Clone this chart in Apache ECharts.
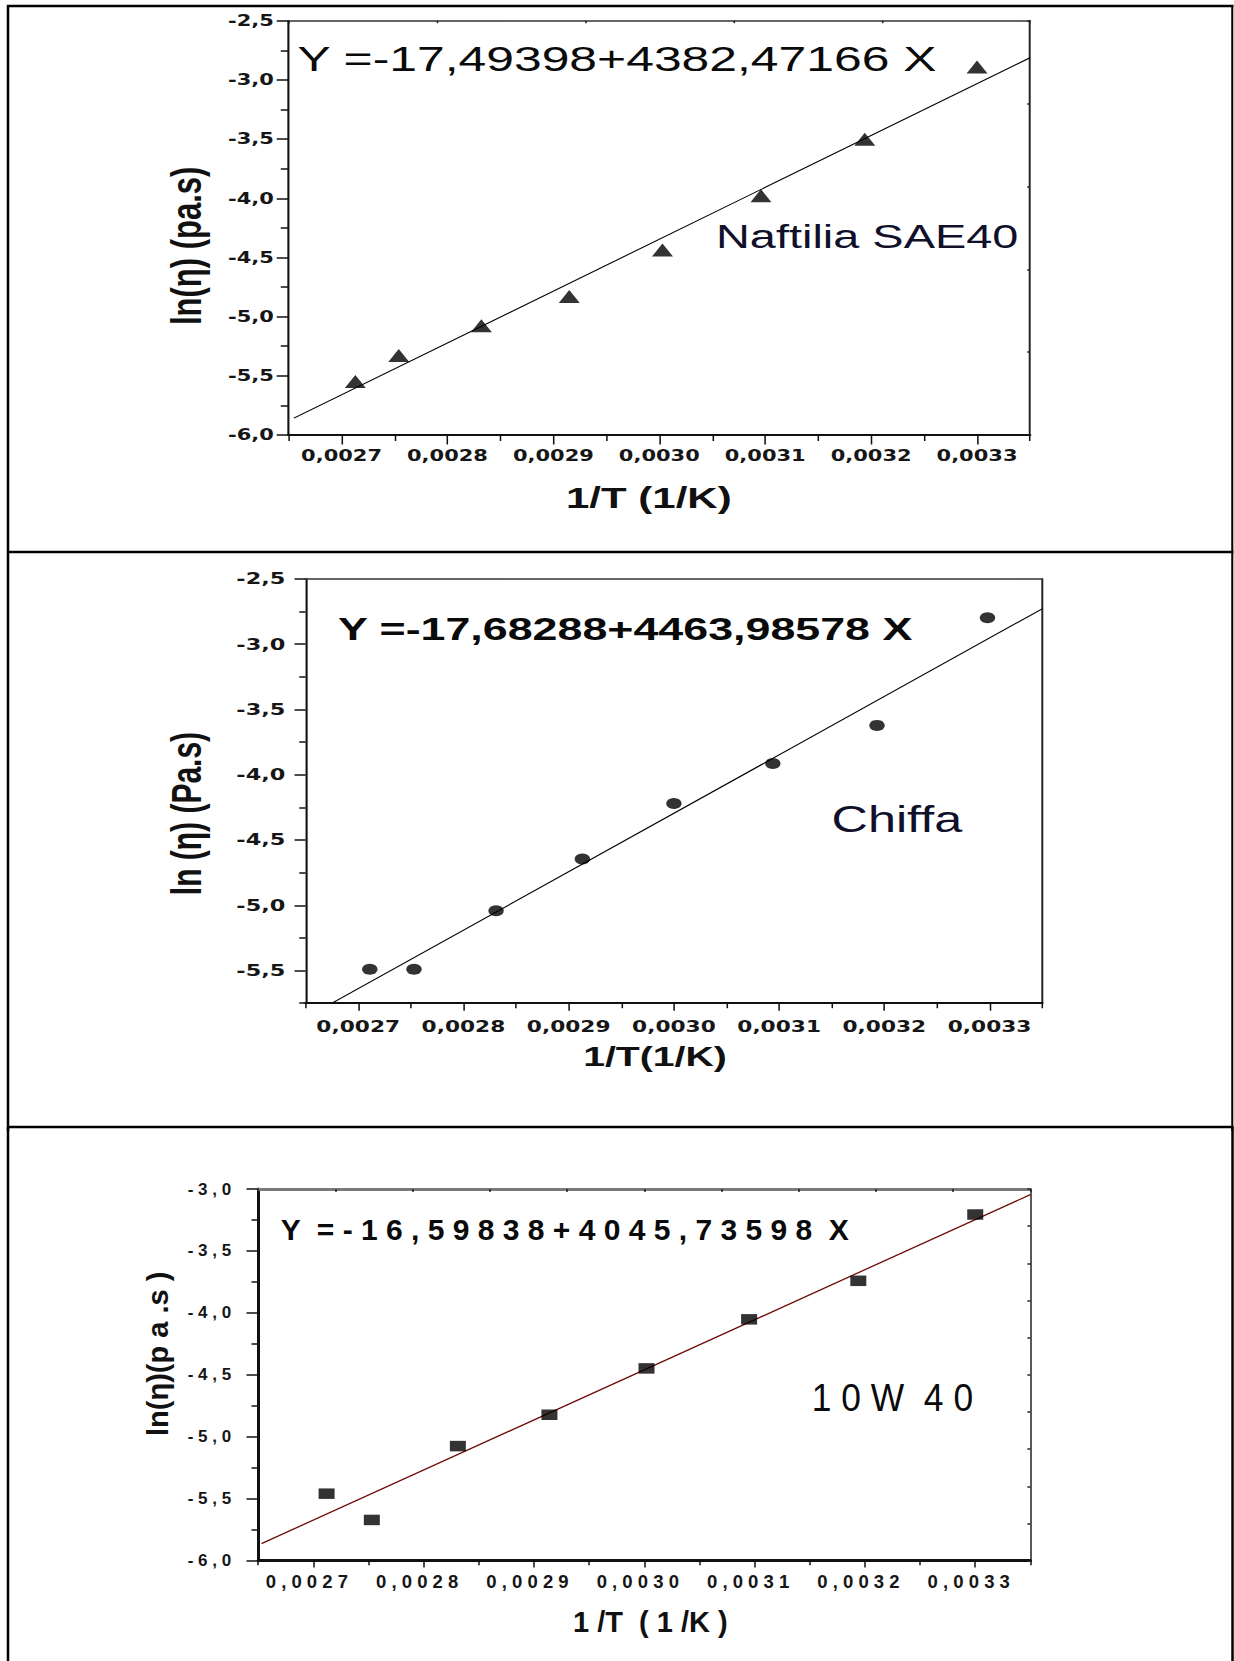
<!DOCTYPE html>
<html>
<head>
<meta charset="utf-8">
<script src="https://cdn.jsdelivr.net/npm/echarts@6/dist/echarts.min.js"></script>
<style>
  html, body { margin: 0; padding: 0; background: #ffffff; }
  #wrap { position: relative; width: 1234px; height: 1661px; overflow: hidden; background: #fff; }
  #top { position: absolute; left: 0; top: 0; transform-origin: 0 0; }
  #bot { position: absolute; left: 0; top: 1127px; width: 1234px; height: 534px; }
</style>
</head>
<body>
<div id="wrap"><div id="top"></div><div id="bot"></div></div>
<script>
// ---------------- data ----------------
const naftiliaX = [0.002713, 0.002754, 0.002832, 0.002915, 0.003003, 0.003096, 0.003194, 0.003300];
const naftiliaY = [-5.547, -5.328, -5.077, -4.829, -4.437, -3.978, -3.502, -2.892];
const naftiliaFitX = [0.002655, 0.003350];
const naftiliaFitY = [-5.858, -2.813];

const chiffaX = [0.002711, 0.002753, 0.002831, 0.002913, 0.003000, 0.003094, 0.003193, 0.003298];
const chiffaY = [-5.490, -5.490, -5.042, -4.645, -4.220, -3.914, -3.622, -2.797];
const chiffaFitX = [0.002676, 0.003350];
const chiffaFitY = [-5.745, -2.729];

const w1040X = [0.002712, 0.002753, 0.002831, 0.002914, 0.003002, 0.003095, 0.003194, 0.003300];
const w1040Y = [-5.459, -5.671, -5.075, -4.822, -4.448, -4.052, -3.741, -3.206];
const w1040FitX = [0.002653, 0.003350];
const w1040FitY = [-5.862, -3.045];

// tick values
const xMajorTicks = [0.0027, 0.0028, 0.0029, 0.0030, 0.0031, 0.0032, 0.0033];
const xMinorTicks = [0.00265, 0.00275, 0.00285, 0.00295, 0.00305, 0.00315, 0.00325, 0.00335];
const yMajor1 = [-6.0, -5.5, -5.0, -4.5, -4.0, -3.5, -3.0, -2.5];
const yMinor1 = [-5.75, -5.25, -4.75, -4.25, -3.75, -3.25, -2.75];
const yMajor2 = [-5.5, -5.0, -4.5, -4.0, -3.5, -3.0, -2.5];
const yMinor2 = [-5.75, -5.25, -4.75, -4.25, -3.75, -3.25, -2.75];
const yMajor3 = [-6.0, -5.5, -5.0, -4.5, -4.0, -3.5, -3.0];
const yMinor3 = [-5.75, -5.25, -4.75, -4.25, -3.75, -3.25];

// texts
const eq1 = 'Y =-17,49398+4382,47166 X';
const eq2 = 'Y =-17,68288+4463,98578 X';
const eq3 = 'Y  = - 1 6 , 5 9 8 3 8 + 4 0 4 5 , 7 3 5 9 8  X';
const label1 = 'Naftilia SAE40';
const label2 = 'Chiffa';
const label3 = '1 0 W  4 0';
const xName1 = '1/T (1/K)';
const xName2 = '1/T(1/K)';
const xName3 = '1 /T  ( 1 /K )';
const yName1 = 'ln(η) (pa.s)';
const yName2 = 'ln (η) (Pa.s)';
const yName3 = 'ln(η)(p a .s )';

// ---------------- helpers ----------------
const X_MIN = 0.00265, X_MAX = 0.00335;
const S = 1.4;                 // horizontal stretch of the two upper panels
const TOP_W = 1234 / S, TOP_H = 1131;
const sx = px => px / S;
const zip = (a, b) => a.map((v, i) => [v, b[i]]);
const comma = (v, d) => v.toFixed(d).replace('.', ',');
const spaced = s => s.split('').join(' ');

function panelAxes(g, p) {
  const xAxis = [
    {
      gridIndex: g, type: 'value', min: X_MIN, max: X_MAX, position: 'bottom',
      axisLine: { show: true, onZero: false, lineStyle: { color: '#111', width: p.bottomW } },
      axisTick: { show: true, inside: false, length: p.xMajLen, customValues: xMajorTicks,
                  lineStyle: { color: '#111', width: p.xTickW } },
      axisLabel: { show: true, customValues: xMajorTicks, formatter: p.xFmt, margin: p.xLabMargin,
                   fontFamily: p.labFont, fontWeight: 'bold', fontSize: p.xLabSize, color: '#161616',
                   padding: p.xLabPad },
      splitLine: { show: false },
      name: p.xName, nameLocation: 'middle', nameGap: p.xNameGap, nameMoveOverlap: false,
      nameTextStyle: { fontFamily: p.nameFont, fontWeight: 'bold', fontSize: p.xNameSize, color: '#111',
                       padding: p.xNamePad }
    },
    {
      gridIndex: g, type: 'value', min: X_MIN, max: X_MAX, position: 'bottom',
      axisLine: { show: false, onZero: false },
      axisTick: { show: true, inside: false, length: p.xMinLen, customValues: xMinorTicks,
                  lineStyle: { color: '#111', width: p.xTickW } },
      axisLabel: { show: false }, splitLine: { show: false }
    },
    {
      gridIndex: g, type: 'value', min: 0, max: p.topDiv, interval: 1, position: 'top',
      axisLine: { show: true, onZero: false, lineStyle: { color: p.topColor, width: p.topW } },
      axisTick: { show: p.topTicks, inside: true, length: p.topTickLen, lineStyle: { color: '#222', width: p.xTickW } },
      axisLabel: { show: false }, splitLine: { show: false }
    }
  ];
  const yAxis = [
    {
      gridIndex: g, type: 'value', min: p.yMin, max: p.yMax, position: 'left',
      axisLine: { show: true, onZero: false, lineStyle: { color: '#111', width: p.leftW } },
      axisTick: { show: true, inside: false, length: p.yMajLen, customValues: p.yMajor,
                  lineStyle: { color: '#111', width: p.yTickW } },
      axisLabel: { show: true, customValues: p.yMajor, formatter: p.yFmt, margin: p.yLabMargin,
                   fontFamily: p.labFont, fontWeight: 'bold', fontSize: p.yLabSize, color: '#161616' },
      splitLine: { show: false },
      name: p.yName, nameLocation: 'middle', nameGap: p.yNameGap, nameRotate: 90, nameMoveOverlap: false,
      nameTextStyle: { fontFamily: p.nameFont, fontWeight: 'bold', fontSize: p.yNameSize, color: '#111',
                       padding: p.yNamePad }
    },
    {
      gridIndex: g, type: 'value', min: p.yMin, max: p.yMax, position: 'left',
      axisLine: { show: false, onZero: false },
      axisTick: { show: true, inside: false, length: p.yMinLen, customValues: p.yMinor,
                  lineStyle: { color: '#111', width: p.yTickW } },
      axisLabel: { show: false }, splitLine: { show: false }
    },
    {
      gridIndex: g, type: 'value', min: 0, max: p.rightDiv, interval: 1, position: 'right',
      axisLine: { show: true, onZero: false, lineStyle: { color: '#222', width: p.rightW } },
      axisTick: { show: p.rightTicks, inside: true, length: p.rightTickLen, lineStyle: { color: '#222', width: p.yTickW } },
      axisLabel: { show: false }, splitLine: { show: false }
    }
  ];
  return { xAxis, yAxis };
}

function textEl(x, y, text, size, weight, family, scaleX, color) {
  return {
    type: 'text', x: x, y: y, scaleX: scaleX || 1, silent: true, z: 10,
    style: { text: text, fill: color || '#0a0a0a', fontSize: size, fontWeight: weight,
             fontFamily: family, align: 'left', verticalAlign: 'middle' }
  };
}
function lineEl(x1, y1, x2, y2, w, color) {
  return { type: 'line', silent: true, z: 20, shape: { x1, y1, x2, y2 },
           style: { stroke: color || '#000', lineWidth: w } };
}

const ARIAL = "'Liberation Sans', Arial, sans-serif";
const DEJAVU = "'DejaVu Sans', 'Liberation Sans', sans-serif";

// ---------------- top chart: panels 1 and 2 ----------------
const topEl = document.getElementById('top');
topEl.style.width = TOP_W + 'px';
topEl.style.height = TOP_H + 'px';
topEl.style.transform = 'scaleX(' + S + ')';

const p1 = panelAxes(0, {
  yMin: -6, yMax: -2.5, yMajor: yMajor1, yMinor: yMinor1,
  bottomW: 2, leftW: 1.5, topW: 1.5, rightW: 1.4, topColor: '#333',
  xTickW: 1.1, yTickW: 1.5, xMajLen: 9.5, xMinLen: 6, yMajLen: 8.5, yMinLen: 5.6,
  topDiv: 5, topTicks: true, topTickLen: 2.5, rightDiv: 5, rightTicks: true, rightTickLen: 2,
  labFont: DEJAVU, xLabSize: 15, yLabSize: 15, xLabMargin: 13, yLabMargin: 10.5, xLabPad: 0,
  xFmt: v => comma(v, 4), yFmt: v => comma(v, 1),
  nameFont: ARIAL, xName: xName1, xNameSize: 30, xNameGap: 48, xNamePad: [0, 15, 0, 0],
  yName: yName1, yNameSize: 31, yNameGap: 58, yNamePad: [0, 36, 0, 0]
});
const p2 = panelAxes(1, {
  yMin: -5.75, yMax: -2.5, yMajor: yMajor2, yMinor: yMinor2,
  bottomW: 2, leftW: 1.5, topW: 1.5, rightW: 1.4, topColor: '#333',
  xTickW: 1.1, yTickW: 1.5, xMajLen: 7.5, xMinLen: 5, yMajLen: 7.9, yMinLen: 4.5,
  topDiv: 5, topTicks: false, topTickLen: 2, rightDiv: 5, rightTicks: false, rightTickLen: 2,
  labFont: DEJAVU, xLabSize: 15.5, yLabSize: 16, xLabMargin: 15, yLabMargin: 14.5, xLabPad: 0,
  xFmt: v => comma(v, 4), yFmt: v => comma(v, 1),
  nameFont: ARIAL, xName: xName2, xNameSize: 28, xNameGap: 39, xNamePad: [0, 27, 0, 0],
  yName: yName2, yNameSize: 30, yNameGap: 70, yNamePad: [0, 45, 0, 0]
});

const topChart = echarts.init(topEl, null, { renderer: 'svg', width: TOP_W, height: TOP_H });
topChart.setOption({
  animation: false,
  backgroundColor: 'transparent',
  grid: [
    { left: sx(288.6), top: 20.7, width: sx(1030 - 288.6), height: 414.3, containLabel: false, outerBoundsMode: 'none' },
    { left: sx(305.6), top: 578.9, width: sx(1042.2 - 305.6), height: 424.3, containLabel: false, outerBoundsMode: 'none' }
  ],
  xAxis: p1.xAxis.concat(p2.xAxis),
  yAxis: p1.yAxis.concat(p2.yAxis),
  series: [
    { type: 'line', xAxisIndex: 0, yAxisIndex: 0, data: zip(naftiliaFitX, naftiliaFitY),
      symbol: 'none', showSymbol: false, silent: true, lineStyle: { color: '#000', width: 1 }, z: 2 },
    { type: 'scatter', xAxisIndex: 0, yAxisIndex: 0, data: zip(naftiliaX, naftiliaY),
      symbol: 'triangle', symbolSize: [15, 13], itemStyle: { color: '#000' }, z: 3 },
    { type: 'line', xAxisIndex: 3, yAxisIndex: 3, data: zip(chiffaFitX, chiffaFitY),
      symbol: 'none', showSymbol: false, silent: true, lineStyle: { color: '#000', width: 1 }, z: 2 },
    { type: 'scatter', xAxisIndex: 3, yAxisIndex: 3, data: zip(chiffaX, chiffaY),
      symbol: 'circle', symbolSize: [11, 11], itemStyle: { color: '#000' }, z: 3 }
  ],
  graphic: [
    textEl(sx(297.4), 59, eq1, 35.6, 'normal', ARIAL),
    textEl(sx(716), 236, label1, 33.5, 'normal', ARIAL, 1, '#10102a'),
    textEl(sx(338), 629, eq2, 32, 'bold', ARIAL),
    textEl(sx(831.5), 819, label2, 36, 'normal', ARIAL, 1, '#10102a'),
    lineEl(sx(7), 6, TOP_W, 6, 2.5),
    lineEl(sx(8), 5, sx(8), TOP_H, 2.5 / S),
    lineEl(sx(1232.5), 5, sx(1232.5), TOP_H, 2.5 / S),
    lineEl(sx(7), 552, TOP_W, 552, 2.5),
    lineEl(sx(7), 1127, TOP_W, 1127, 2.5)
  ]
});

// ---------------- bottom chart: panel 3 ----------------
const p3 = panelAxes(0, {
  yMin: -6, yMax: -3, yMajor: yMajor3, yMinor: yMinor3,
  bottomW: 3, leftW: 3, topW: 3, rightW: 1.5, topColor: '#7a7a7a',
  xTickW: 1.5, yTickW: 1.5, xMajLen: 6.7, xMinLen: 4.5, yMajLen: 11.7, yMinLen: 6.7,
  topDiv: 10, topTicks: true, topTickLen: 3, rightDiv: 10, rightTicks: true, rightTickLen: 3,
  labFont: ARIAL, xLabSize: 18.5, yLabSize: 17, xLabMargin: 11, yLabMargin: 27, xLabPad: [0, 13, 0, 0],
  xFmt: v => spaced(comma(v, 4)), yFmt: v => spaced(comma(v, 1)),
  nameFont: ARIAL, xName: xName3, xNameSize: 29, xNameGap: 47, xNamePad: [0, 0, 0, 12],
  yName: yName3, yNameSize: 29, yNameGap: 86, yNamePad: [0, 0, 0, 42]
});

const botChart = echarts.init(document.getElementById('bot'), null, { renderer: 'svg', width: 1234, height: 534 });
botChart.setOption({
  animation: false,
  backgroundColor: 'transparent',
  grid: [{ left: 258.2, top: 62, width: 772.2, height: 371.7, containLabel: false, outerBoundsMode: 'none' }],
  xAxis: p3.xAxis,
  yAxis: p3.yAxis,
  series: [
    { type: 'line', xAxisIndex: 0, yAxisIndex: 0, data: zip(w1040FitX, w1040FitY),
      symbol: 'none', showSymbol: false, silent: true, lineStyle: { color: '#6e0a0a', width: 1.3 }, z: 2 },
    { type: 'scatter', xAxisIndex: 0, yAxisIndex: 0, data: zip(w1040X, w1040Y),
      symbol: 'rect', symbolSize: [16, 10.5], itemStyle: { color: '#000' }, z: 3 }
  ],
  graphic: [
    textEl(280.7, 102, eq3, 30, 'bold', ARIAL),
    textEl(811.7, 271, label3, 38.5, 'normal', ARIAL, 0.92),
    lineEl(8, 0, 8, 534, 2.5),
    lineEl(1232.5, 0, 1232.5, 534, 2.5)
  ]
});
</script>
</body>
</html>
